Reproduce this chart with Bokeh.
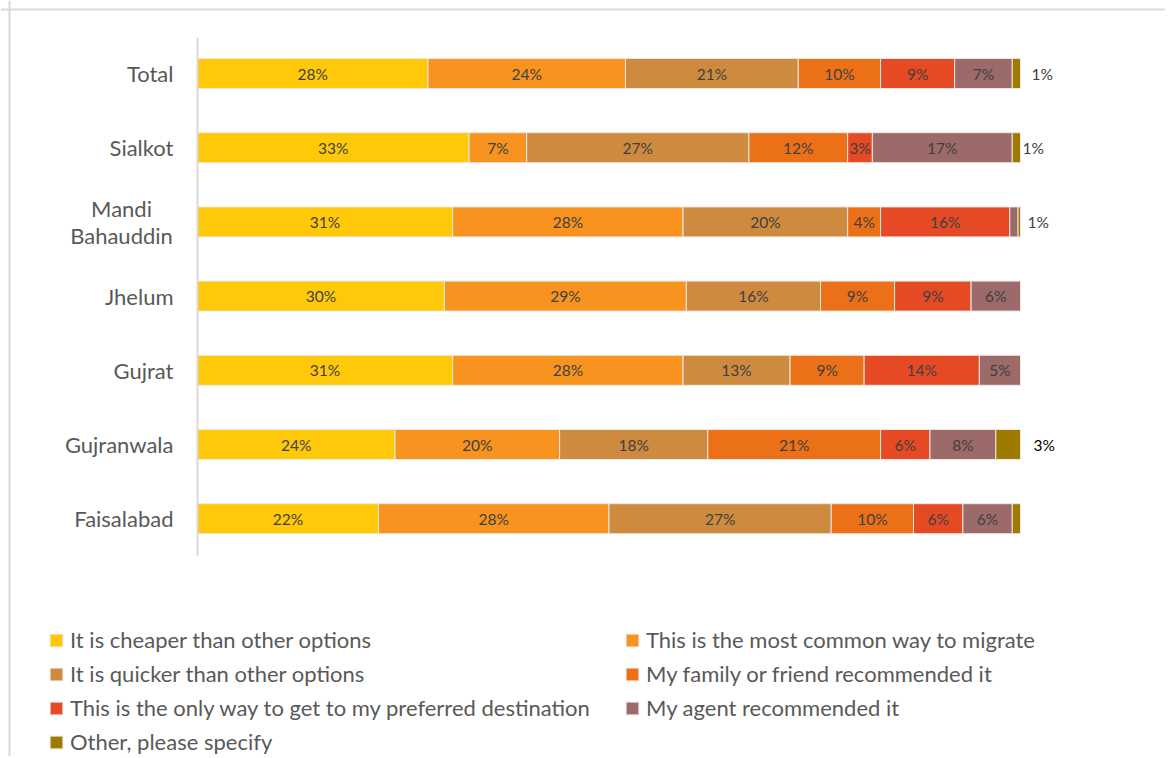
import numpy as np
from bokeh.plotting import figure
from bokeh.models import Range1d, ColumnDataSource, Legend, LegendItem, Span
from bokeh.core.properties import value
from bokeh.embed import file_html
from bokeh.resources import INLINE

# ---------------- data ----------------
categories = ["Total", "Sialkot", "Mandi\nBahauddin", "Jhelum", "Gujrat", "Gujranwala", "Faisalabad"]
series_names = [
    "It is cheaper than other options",
    "This is the most common way to migrate",
    "It is quicker than other options",
    "My family or friend recommended it",
    "This is the only way to get to my preferred destination",
    "My agent recommended it",
    "Other, please specify",
]
cheaper = [28, 33, 31, 30.0, 31, 24, 22]
common = [24, 7, 28, 29.4, 28, 20, 28]
quicker = [21, 27, 20, 16.3, 13, 18, 27]
family = [10, 12, 4, 9.0, 9, 21, 10]
only_way = [9, 3, 15.7, 9.3, 14, 6, 6]
agent = [7, 17, 1.0, 6.0, 5, 8, 6]
other = [1, 1, 0.3, 0, 0, 3, 1]
outside_labels = ["1%", "1%", "1%", "", "", "3%", ""]

colors = ["#FFC90A", "#F7931E", "#CE8B3F", "#EB7017", "#E54A25", "#9B6A69", "#9E7B00"]
keys = ["cheaper", "common", "quicker", "family", "only_way", "agent", "other"]
series_values = [cheaper, common, quicker, family, only_way, agent, other]

# ---------------- layout constants (pixels) ----------------
W, H = 1165, 756
PX_X = 8.23            # pixels per percentage point
X_ZERO = 197           # canvas x of 0 %
ROW = 74.2             # row pitch in px
Y_FIRST = 73           # canvas y of first row centre
x_start = -X_ZERO / PX_X
x_end = x_start + W / PX_X
y_top = -Y_FIRST / ROW
y_bottom = y_top + H / ROW

FONT = "Lato"

p = figure(width=W, height=H, x_range=Range1d(x_start, x_end), y_range=Range1d(y_bottom, y_top),
           output_backend="svg", toolbar_location=None, x_axis_type=None, y_axis_type=None,
           min_border=0)
p.outline_line_color = None
p.background_fill_color = "white"
p.border_fill_color = "white"

ypos = list(range(len(categories)))
data = {"y": ypos}
for k, v in zip(keys, series_values):
    data[k] = v
source = ColumnDataSource(data)

rends = p.hbar_stack(keys, y="y", height=0.404, source=source, fill_color=colors,
                     line_color="#ECE8E4", line_width=1)

# axis line
p.segment(x0=[0], y0=[-0.485], x1=[0], y1=[6.5], line_color="#D9D9D9", line_width=2)

# data labels inside
arr = np.array(series_values, dtype=float)
cum = np.cumsum(arr, axis=0)
lx, ly, lt = [], [], []
for si in range(arr.shape[0] - 1):
    for ci in range(arr.shape[1]):
        v = arr[si, ci]
        if v >= 2.5:
            lx.append(cum[si, ci] - v / 2)
            ly.append(ci)
            lt.append(f"{round(v):.0f}%")
p.text(x="x", y="y", text="t", source=ColumnDataSource(dict(x=lx, y=ly, t=lt)),
       text_align="center", text_baseline="middle", text_font=value(FONT),
       text_font_size="15.5px", text_color="#404040")

# outside labels
offsets = [11, 2, 7, 0, 0, 13, 0]
ocolors = ["#404040", "#404040", "#404040", "#404040", "#404040", "#000000", "#404040"]
ox, oy, ot, ooff, oc = [], [], [], [], []
for ci, t in enumerate(outside_labels):
    if t:
        ox.append(cum[-1, ci]); oy.append(ci); ot.append(t); ooff.append(offsets[ci]); oc.append(ocolors[ci])
p.text(x="x", y="y", text="t", x_offset="off", text_color="c",
       source=ColumnDataSource(dict(x=ox, y=oy, t=ot, off=ooff, c=oc)),
       text_align="left", text_baseline="middle", text_font=value(FONT), text_font_size="15.5px")

# category labels
single = [(i, c) for i, c in enumerate(categories) if "\n" not in c]
multi = [(i, c) for i, c in enumerate(categories) if "\n" in c]
p.text(x=[0] * len(single), y=[i for i, _ in single], text=[c for _, c in single], x_offset=-24,
       text_align="right", text_baseline="middle", text_font=value(FONT), text_font_size="22px",
       text_color="#595959")
p.text(x=[0] * len(multi), y=[i for i, _ in multi], text=[c for _, c in multi], x_offset=-76,
       text_align="center", text_baseline="middle", text_font=value(FONT), text_font_size="22px",
       text_color="#595959", text_line_height=1.0)

# frame lines (top and left)
p.add_layout(Span(location=x_start + 9 / PX_X, dimension="height", line_color="#D9D9D9", line_width=2))
p.add_layout(Span(location=y_top + 9 / ROW, dimension="width", line_color="#D9D9D9", line_width=2))

# legends
def make_legend(idx, x, y):
    return Legend(items=[LegendItem(label=series_names[i], renderers=[rends[i]]) for i in idx],
                  location=(x, y), orientation="vertical", padding=0, margin=0,
                  border_line_color=None, background_fill_alpha=0,
                  label_text_font=FONT, label_text_font_size="22px", label_text_color="#595959",
                  glyph_width=16, glyph_height=16, label_standoff=6, spacing=7, label_height=24)

p.add_layout(make_legend([0, 2, 4, 6], 48, H - 757 + 2))
p.add_layout(make_legend([1, 3, 5], 624, H - 723 + 2))

open("out.html", "w").write(file_html(p, INLINE))
